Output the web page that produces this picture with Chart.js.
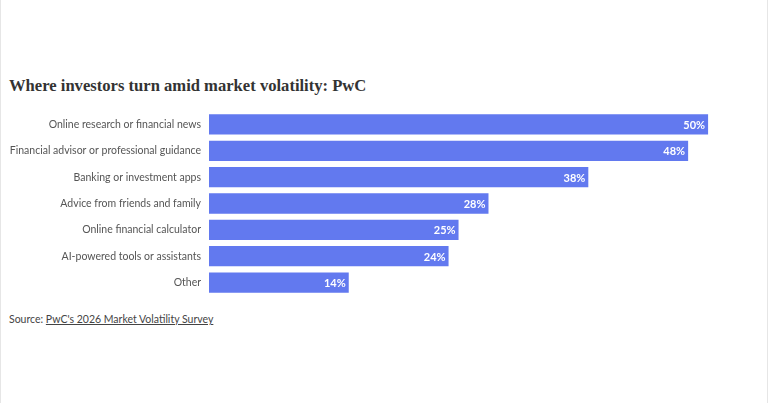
<!DOCTYPE html>
<html><head><meta charset="utf-8">
<script src="https://cdn.jsdelivr.net/npm/chart.js@4"></script>
<style>
html,body{margin:0;padding:0;background:#fff;}
body{width:768px;height:403px;position:relative;overflow:hidden;box-sizing:border-box;border-left:1px solid #e6e6e6;border-right:1px solid #e6e6e6;}
#title{position:absolute;left:8px;top:76px;font-family:"Liberation Serif",serif;font-weight:bold;font-size:16.6px;color:#333;white-space:nowrap;}
#wrap{position:absolute;left:0;top:97px;width:768px;height:213px;}
#src{position:absolute;left:8px;top:313px;font-family:Lato,sans-serif;font-size:10.5px;color:#444;}
#src a{color:#444;text-decoration:underline;}
</style></head>
<body>
<div id="title">Where investors turn amid market volatility: PwC</div>
<div id="wrap"><canvas id="c" width="768" height="213"></canvas></div>
<div id="src">Source: <a>PwC's 2026 Market Volatility Survey</a></div>
<script>
const categories = ["Online research or financial news","Financial advisor or professional guidance","Banking or investment apps","Advice from friends and family","Online financial calculator","AI-powered tools or assistants","Other"];
const values = [50,48,38,28,25,24,14];
const valueLabels = ["50%","48%","38%","28%","25%","24%","14%"];

const labelPlugin = {
  id:'barLabels',
  afterDatasetsDraw(chart){
    const ctx = chart.ctx;
    const meta = chart.getDatasetMeta(0);
    ctx.save();
    ctx.font = 'bold 11px Lato, sans-serif';
    ctx.fillStyle = '#ffffff';
    ctx.textAlign = 'right';
    ctx.textBaseline = 'middle';
    meta.data.forEach((bar,i)=>{
      ctx.fillText(valueLabels[i], bar.x - 3, bar.y + 1);
    });
    ctx.restore();
  }
};

new Chart(document.getElementById('c'),{
  type:'bar',
  data:{labels:categories,datasets:[{data:values,backgroundColor:'#6279ef',barPercentage:0.77,categoryPercentage:1}]},
  options:{
    indexAxis:'y',
    responsive:false,maintainAspectRatio:false,animation:false,
    layout:{padding:{left:0,right:11,top:0,bottom:0}},
    plugins:{legend:{display:false},tooltip:{enabled:false}},
    scales:{
      x:{display:false,min:0,max:55},
      y:{
        grid:{display:false,drawTicks:false},border:{display:false},
        ticks:{color:'#555',font:{family:'Lato, sans-serif',size:10.5},padding:8},
        afterFit(s){s.width=208;}
      }
    }
  },
  plugins:[labelPlugin]
});
</script>
</body></html>
